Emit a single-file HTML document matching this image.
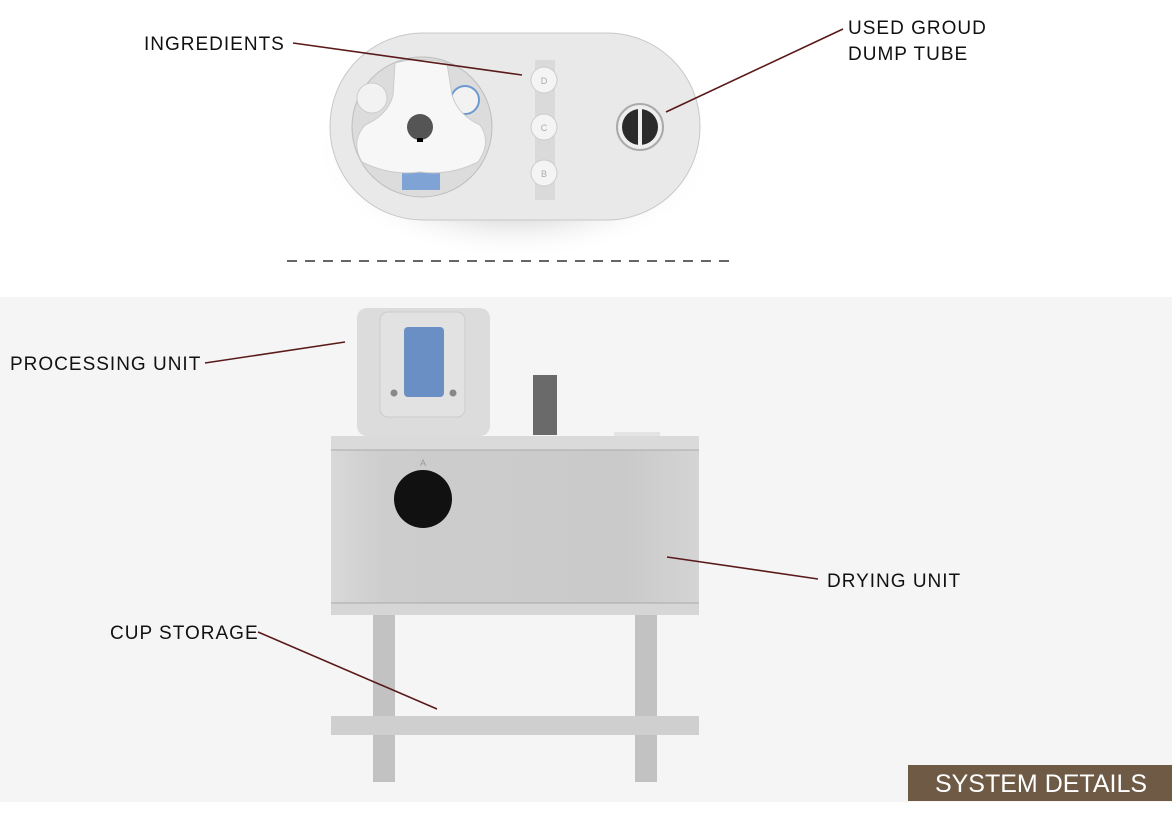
<!DOCTYPE html>
<html><head><style>
html,body{margin:0;padding:0;background:#fff;}
svg{display:block;}
text{font-family:"Liberation Sans",sans-serif;}
</style></head><body>
<svg width="1172" height="826" viewBox="0 0 1172 826" xmlns="http://www.w3.org/2000/svg">
<defs>
<radialGradient id="sh" cx="0.5" cy="0.5" r="0.5"><stop offset="0.6" stop-color="#ddd"/><stop offset="1" stop-color="#fff" stop-opacity="0"/></radialGradient>
<linearGradient id="body" x1="0" x2="1"><stop offset="0" stop-color="#d8d8d8"/><stop offset="0.15" stop-color="#cdcdcd"/><stop offset="0.8" stop-color="#cacaca"/><stop offset="1" stop-color="#d4d4d4"/></linearGradient>
</defs>
<rect x="0" y="297" width="1172" height="505" fill="#f5f5f5"/>
<!-- top view -->
<ellipse cx="515" cy="150" rx="200" ry="110" fill="url(#sh)"/>
<rect x="330" y="33" width="370" height="187" rx="93" fill="#e9e9e9" stroke="#c8c8c8"/>
<rect x="535" y="60" width="20" height="140" fill="#dadada"/>
<circle cx="422" cy="127" r="70" fill="#dcdcdc" stroke="#bdbdbd"/>
<circle cx="372" cy="98" r="15" fill="#f2f2f2" stroke="#ccc"/>
<circle cx="465" cy="100" r="14" fill="#f2f2f2" stroke="#6c9ad0" stroke-width="2"/>
<rect x="402" y="168" width="38" height="22" fill="#7fa3d4"/>
<path d="M395 63 Q420 56 447 63 L452 95 Q458 115 480 125 Q492 142 478 162 Q450 176 420 172 Q390 176 362 162 Q350 142 365 125 Q388 115 393 95 Z" fill="#f7f7f7" stroke="#ccc"/>
<circle cx="420" cy="127" r="13" fill="#555"/>
<rect x="417" y="138" width="6" height="4" fill="#000"/>
<g font-size="9" fill="#aaa" text-anchor="middle">
<circle cx="544" cy="80" r="13" fill="#f4f4f4" stroke="#ccc"/><text x="544" y="84">D</text>
<circle cx="544" cy="127" r="13" fill="#f4f4f4" stroke="#ccc"/><text x="544" y="131">C</text>
<circle cx="544" cy="173" r="13" fill="#f4f4f4" stroke="#ccc"/><text x="544" y="177">B</text>
</g>
<circle cx="640" cy="127" r="23" fill="#eee" stroke="#aaa" stroke-width="2"/>
<circle cx="640" cy="127" r="18" fill="#2a2a2a"/>
<rect x="638" y="109" width="4" height="36" fill="#eee"/>
<line x1="287" y1="261" x2="732" y2="261" stroke="#333" stroke-width="1.5" stroke-dasharray="10,8"/>
<!-- front view -->
<rect x="373" y="610" width="22" height="172" fill="#c2c2c2"/>
<rect x="635" y="610" width="22" height="172" fill="#c2c2c2"/>
<rect x="331" y="716" width="368" height="19" fill="#cfcfcf"/>
<rect x="357" y="308" width="133" height="128" rx="10" fill="#dcdcdc"/>
<rect x="380" y="312" width="85" height="105" rx="8" fill="#e2e2e2" stroke="#ccc"/>
<rect x="404" y="327" width="40" height="70" rx="4" fill="#6a8fc4"/>
<circle cx="394" cy="393" r="3.5" fill="#888"/><circle cx="453" cy="393" r="3.5" fill="#888"/>
<rect x="533" y="375" width="24" height="60" fill="#6a6a6a"/>
<rect x="614" y="432" width="46" height="6" fill="#e4e4e4"/>
<rect x="331" y="436" width="368" height="179" fill="url(#body)"/>
<rect x="331" y="436" width="368" height="14" fill="#dadada"/>
<line x1="331" y1="450" x2="699" y2="450" stroke="#aaa"/>
<rect x="331" y="603" width="368" height="12" fill="#d6d6d6"/>
<line x1="331" y1="603" x2="699" y2="603" stroke="#aaa"/>
<text x="423" y="466" font-size="9" fill="#999" text-anchor="middle">A</text>
<circle cx="423" cy="499" r="29" fill="#111"/>
<!-- labels -->
<g stroke="#5a1a1a" stroke-width="1.6">
<line x1="293" y1="43" x2="522" y2="75"/>
<line x1="843" y1="29" x2="666" y2="112"/>
<line x1="205" y1="363" x2="345" y2="342"/>
<line x1="667" y1="557" x2="818" y2="579"/>
<line x1="258" y1="632" x2="437" y2="709"/>
</g>
<g font-size="19" fill="#111" letter-spacing="1">
<text x="144" y="50">INGREDIENTS</text>
<text x="848" y="34">USED GROUD</text>
<text x="848" y="60">DUMP TUBE</text>
<text x="10" y="370">PROCESSING UNIT</text>
<text x="827" y="587">DRYING UNIT</text>
<text x="110" y="639">CUP STORAGE</text>
</g>
<rect x="908" y="765" width="264" height="36" fill="#6e5a45"/>
<text x="1041" y="792" font-size="25" fill="#fff" text-anchor="middle">SYSTEM DETAILS</text>
</svg>
</body></html>
